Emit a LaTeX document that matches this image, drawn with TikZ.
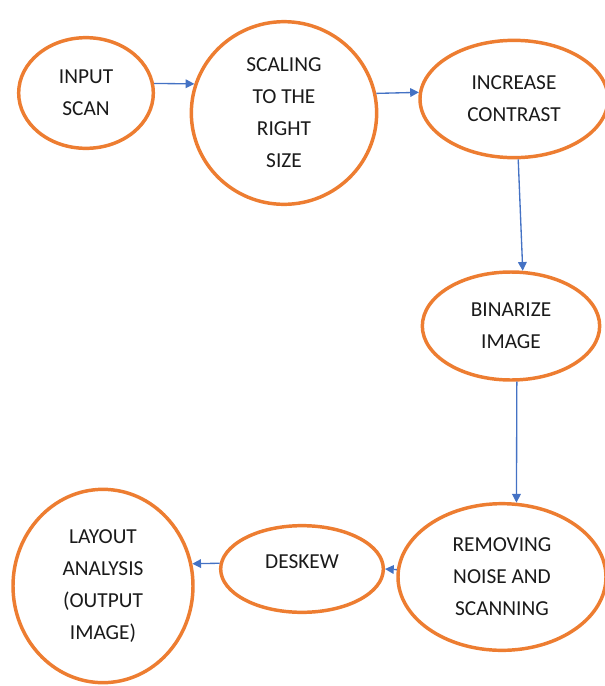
\documentclass[tikz,border=0pt]{standalone}
\usepackage{fontspec}
\setmainfont{Carlito}
\usetikzlibrary{arrows.meta, shapes.geometric}
\definecolor{stageorange}{HTML}{ED7D31}
\definecolor{flowblue}{HTML}{4472C4}
\definecolor{textgray}{HTML}{1A1A1A}

\begin{document}
\begin{tikzpicture}[
    x=0.75pt, y=-0.75pt,
    every node/.style={font=\fontsize{16}{24}\selectfont, text=textgray},
    stage/.style={
        ellipse,
        draw=stageorange,
        fill=white,
        line width=2.6pt,
        align=center,
        inner sep=0pt
    },
    arrow/.style={-{Triangle[length=6.5pt, width=6.5pt]}, line width=1pt, color=flowblue}
]
\useasboundingbox (0,0) rectangle (604,686);

% NODES
\node[stage, minimum width=101pt, minimum height=83pt] (scan) at (86,93) {INPUT\\SCAN};
\node[stage, minimum width=139pt, minimum height=137pt] (scale) at (284,113) {SCALING\\TO THE\\RIGHT\\SIZE};
\node[stage, minimum width=141pt, minimum height=88pt] (contrast) at (514,99) {INCREASE\\CONTRAST};
\node[stage, minimum width=133pt, minimum height=81pt] (binarize) at (511,326) {BINARIZE\\IMAGE};
\node[stage, minimum width=156pt, minimum height=110pt] (denoise) at (502,577) {REMOVING\\NOISE AND\\SCANNING};
\node[stage, minimum width=122pt, minimum height=65pt, text depth=10.5pt] (deskew) at (302,569) {DESKEW};
\node[stage, minimum width=135pt, minimum height=145pt] (layout) at (103,586) {LAYOUT\\ANALYSIS\\(OUTPUT\\IMAGE)};

% ARROWS
\draw[arrow] (scan.8) -- (scale.162);
\draw[arrow] (scale.12) -- (contrast.176);
\draw[arrow] (contrast.-86) -- (binarize.78);
\draw[arrow] (binarize.-84) -- (denoise.79);
\draw[arrow] (denoise.176) -- (deskew.east);
\draw[arrow] (deskew.176) -- (layout.14);

\end{tikzpicture}
\end{document}
